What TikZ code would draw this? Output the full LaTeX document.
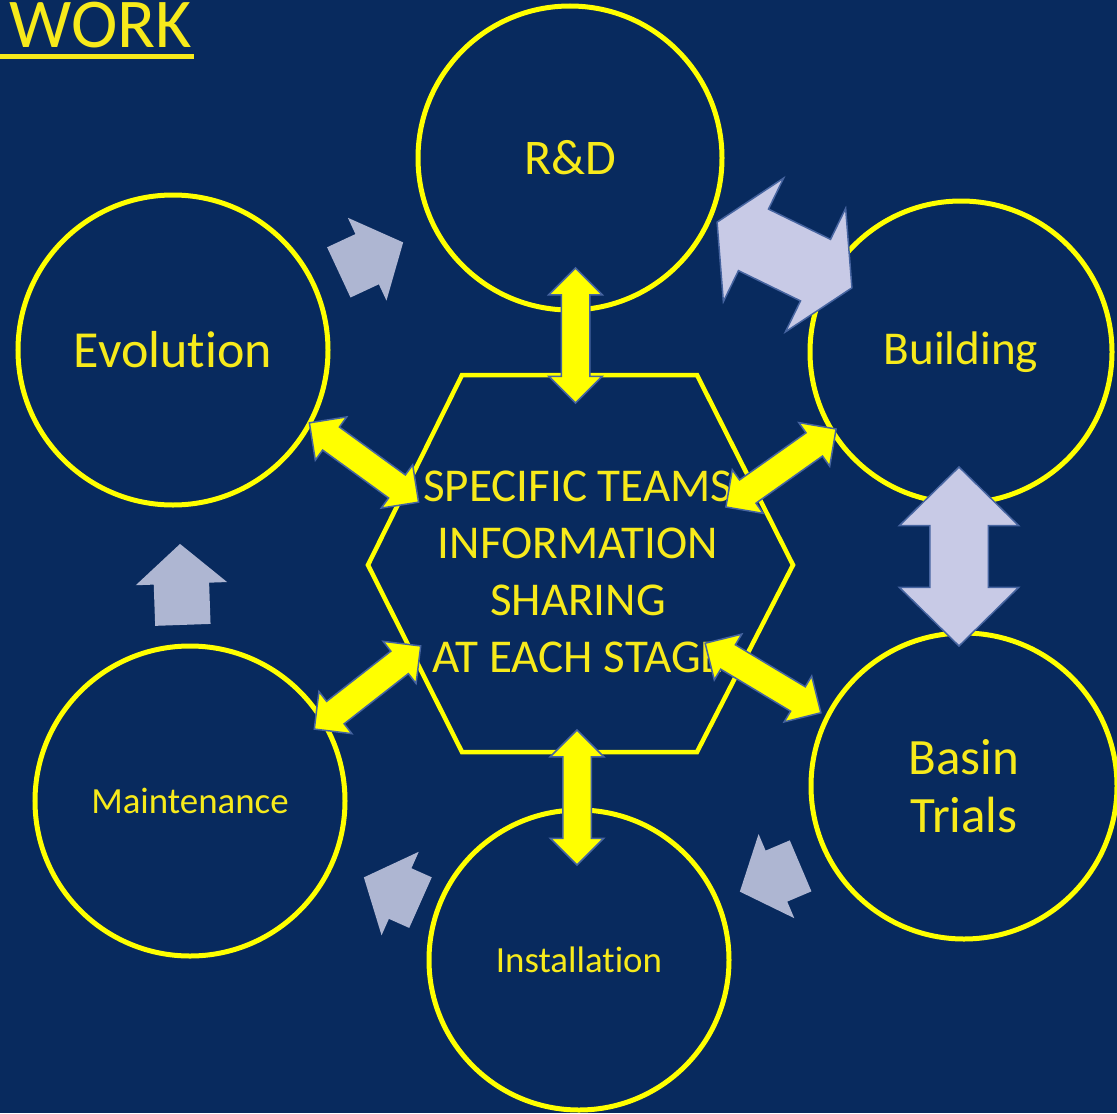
\documentclass[tikz,border=0pt]{standalone}
\usepackage{fontspec}
\setmainfont{Carlito}[Ligatures=NoCommon]
\usetikzlibrary{shapes.arrows}

\definecolor{navy}{HTML}{082A5E}
\definecolor{ringyellow}{HTML}{FFFF00}
\definecolor{textyellow}{HTML}{F7EA1B}
\definecolor{edgeblue}{HTML}{4664A0}
\definecolor{lavender}{HTML}{C8CAE6}
\definecolor{paleblue}{HTML}{AEB6D2}

\begin{document}
\begin{tikzpicture}[
            stage/.style={circle, draw=ringyellow, line width=0.05cm, inner sep=0pt, align=center, text=textyellow},
            hubtext/.style={align=center, text=textyellow, font=\fontsize{13.4}{16.2}\selectfont},
            bolt/.style={double arrow, fill=ringyellow, draw=edgeblue, line width=0.015cm, inner sep=0pt, inner ysep=0.135cm, double arrow head extend=0.125cm, double arrow tip angle=90, minimum height=1.35cm},
            swap/.style={double arrow, fill=lavender, draw=edgeblue, line width=0.015cm, inner sep=0pt},
            flow/.style={single arrow, anchor=tip, fill=paleblue, inner sep=0pt, inner ysep=0.27cm, single arrow head extend=0.18cm, single arrow tip angle=98}
        ]
            % --- 1. background ---
            \fill[navy] (0,0) rectangle (11.17,11.13);
            \useasboundingbox (0,0) rectangle (11.17,11.13);

            \node[anchor=base west, text=textyellow, font=\fontsize{19.9}{24}\selectfont, inner sep=0pt] (title) at (0.09,10.66) {WORK};
            \draw[textyellow, line width=0.05cm] (0,10.565) -- (1.94,10.565);

            % --- 2. stages ---
            \node[stage, minimum size=3.04cm, font=\fontsize{14.2}{17}\selectfont] (rd) at (5.70,9.55) {R\&D};
            \node[stage, minimum size=3.10cm, font=\fontsize{14.8}{17}\selectfont] (evo) at (1.73,7.63) {Evolution};
            \node[stage, minimum size=3.02cm, font=\fontsize{13.4}{16}\selectfont] (bld) at (9.61,7.61) {Building};
            \node[stage, minimum size=3.06cm, font=\fontsize{14.5}{16.5}\selectfont] (bas) at (9.64,3.27) {Basin\\Trials};
            \node[stage, minimum size=3.00cm, font=\fontsize{10.5}{12}\selectfont] (ins) at (5.79,1.53) {Installation};
            \node[stage, minimum size=3.10cm, font=\fontsize{10.5}{12}\selectfont] (mnt) at (1.90,3.12) {Maintenance};

            % --- 3. hexagon ---
            \draw[ringyellow, line width=0.045cm] (4.62,7.38) -- (6.97,7.38) -- (7.93,5.48) -- (6.97,3.61) -- (4.62,3.61) -- (3.68,5.48) -- cycle;
            \node[hubtext] (hub) at (5.78,5.41) {SPECIFIC TEAMS\\INFORMATION\\SHARING\\AT EACH STAGE};

            % --- 4. cycle arrows ---
            \node[flow, minimum height=0.71cm, rotate=25] (a1) at (4.04,8.71) {};
            \node[flow, minimum height=0.81cm, rotate=92] (a2) at (1.80,5.70) {};
            \node[flow, minimum height=0.66cm, rotate=203] (a3) at (7.39,2.21) {};
            \node[flow, minimum height=0.62cm, rotate=156] (a4) at (3.63,2.36) {};

            \node[swap, minimum height=1.50cm, rotate=-26, inner ysep=0.335cm, double arrow head extend=0.345cm, double arrow tip angle=119] (s1) at (7.845,8.58) {};
            \node[swap, minimum height=1.79cm, rotate=90, inner ysep=0.285cm, double arrow head extend=0.305cm, double arrow tip angle=91] (s2) at (9.59,5.565) {};

            % --- 5. sharing arrows ---
            \node[bolt, rotate=90] (b1) at (5.755,7.775) {};
            \node[bolt, rotate=90] (b2) at (5.77,3.155) {};
            \node[bolt, rotate=-36] (b3) at (3.64,6.505) {};
            \node[bolt, rotate=35.3] (b4) at (7.81,6.45) {};
            \node[bolt, rotate=-31] (b5) at (7.63,4.35) {};
            \node[bolt, rotate=38] (b6) at (3.675,4.255) {};

        \end{tikzpicture}
\end{document}
